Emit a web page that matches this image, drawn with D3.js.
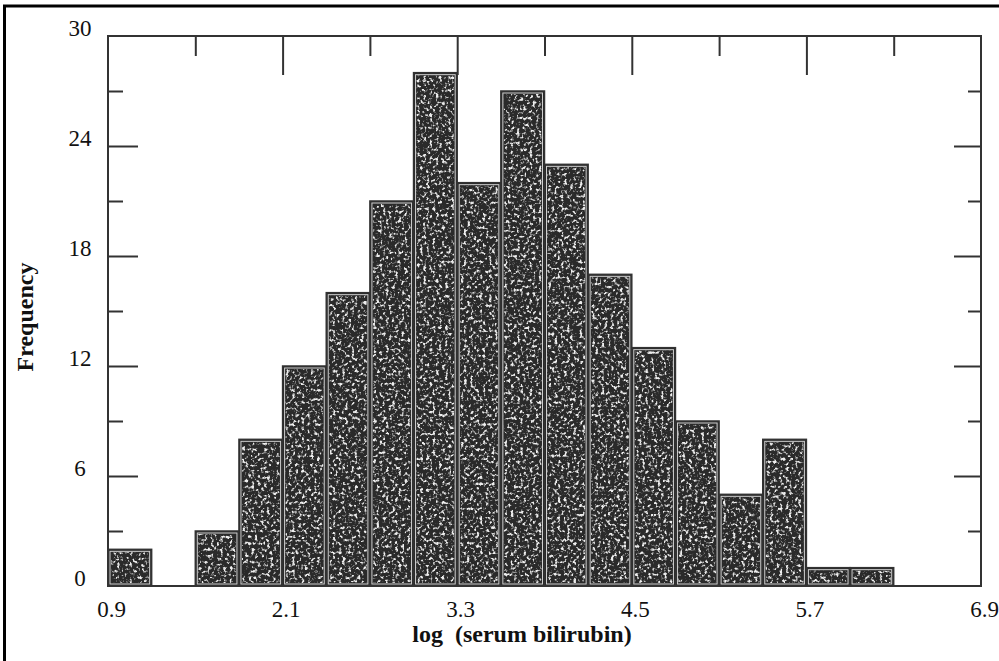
<!DOCTYPE html>
<html>
<head>
<meta charset="utf-8">
<script src="https://cdn.jsdelivr.net/npm/d3@7"></script>
<style>
  body { margin: 0; background: #fff; overflow: hidden; }
  svg { display: block; }
  .lbl { font-family: "Liberation Serif", "Times New Roman", serif; font-size: 23px; fill: #111; }
  .ttl { font-family: "Liberation Serif", "Times New Roman", serif; font-size: 24px; font-weight: bold; fill: #111; white-space: pre; }
</style>
</head>
<body>
<svg id="chart"></svg>
<script>
// histogram bins (lower edge) and counts
var binLow = [0.9, 1.2, 1.5, 1.8, 2.1, 2.4, 2.7, 3.0, 3.3, 3.6, 3.9, 4.2, 4.5, 4.8, 5.1, 5.4, 5.7, 6.0];
var counts = [2, 0, 3, 8, 12, 16, 21, 28, 22, 27, 23, 17, 13, 9, 5, 8, 1, 1];
var binWidth = 0.3;

var xLabels = [0.9, 2.1, 3.3, 4.5, 5.7, 6.9];
var xMinor = [1.5, 2.7, 3.9, 5.1, 6.3];
var yLabels = [0, 6, 12, 18, 24, 30];
var yMinor = [3, 9, 15, 21, 27];

var W = 999, H = 661;
var margin = {top: 36, left: 108};
var width = 981 - margin.left;
var height = 586 - margin.top;

var svg = d3.select("#chart").attr("width", W).attr("height", H);

// grainy fill like the scanned print
var defs = svg.append("defs");
var f = defs.append("filter").attr("id", "grain")
    .attr("x", 0).attr("y", 0).attr("width", 1).attr("height", 1);
f.append("feTurbulence").attr("type", "fractalNoise").attr("baseFrequency", 0.32)
    .attr("numOctaves", 2).attr("seed", 4).attr("result", "noise");
f.append("feColorMatrix").attr("in", "noise").attr("type", "matrix")
    .attr("values", "0 0 0 0 0.85  0 0 0 0 0.85  0 0 0 0 0.85  5 0 0 0 -2.6")
    .attr("result", "spots");
f.append("feComposite").attr("in", "spots").attr("in2", "SourceGraphic").attr("operator", "in");

// scanned page border
svg.append("rect").attr("x", 4.5).attr("y", 6).attr("width", 1100).attr("height", 800)
    .attr("fill", "none").attr("stroke", "#000").attr("stroke-width", 3);

var g = svg.append("g").attr("transform", "translate(" + margin.left + "," + margin.top + ")");

var xs = d3.scaleLinear().domain([0.9, 6.9]).range([0, width]);
var ys = d3.scaleLinear().domain([0, 30]).range([height, 0]);

var bins = binLow.map(function(lo, i) { return {lo: lo, hi: lo + binWidth, n: counts[i]}; })
    .filter(function(d) { return d.n > 0; });

var bar = g.selectAll(".bar").data(bins).enter().append("g").attr("class", "bar");
bar.append("rect")
    .attr("x", function(d) { return xs(d.lo); })
    .attr("y", function(d) { return ys(d.n); })
    .attr("width", function(d) { return xs(d.hi) - xs(d.lo); })
    .attr("height", function(d) { return ys(0) - ys(d.n); })
    .attr("fill", "#2a2a2a").attr("stroke", "#333").attr("stroke-width", 1.5);
bar.append("rect")
    .attr("x", function(d) { return xs(d.lo) + 3; })
    .attr("y", function(d) { return ys(d.n) + 3; })
    .attr("width", function(d) { return xs(d.hi) - xs(d.lo) - 6; })
    .attr("height", function(d) { return ys(0) - ys(d.n) - 6; })
    .attr("fill", "#000").attr("filter", "url(#grain)");
bar.append("rect")
    .attr("x", function(d) { return xs(d.lo) + 2; })
    .attr("y", function(d) { return ys(d.n) + 2; })
    .attr("width", function(d) { return xs(d.hi) - xs(d.lo) - 4; })
    .attr("height", function(d) { return ys(0) - ys(d.n) - 4; })
    .attr("fill", "none").attr("stroke", "#d0d0d0").attr("stroke-width", 1);

// frame
g.append("rect").attr("x", 0).attr("y", 0).attr("width", width).attr("height", height)
    .attr("fill", "none").attr("stroke", "#333").attr("stroke-width", 2);

function tickAxis(axis, vals, size, tx, ty) {
  var a = g.append("g").attr("transform", "translate(" + tx + "," + ty + ")")
      .call(axis.tickValues(vals).tickSize(size).tickFormat(""));
  a.select(".domain").remove();
  a.selectAll("line").attr("stroke", "#333").attr("stroke-width", 2);
}
tickAxis(d3.axisTop(xs), xLabels.slice(1, 5), -39, 0, 0);
tickAxis(d3.axisTop(xs), xMinor, -20, 0, 0);
tickAxis(d3.axisLeft(ys), yLabels.slice(1, 5), -30, 0, 0);
tickAxis(d3.axisLeft(ys), yMinor, -15, 0, 0);
tickAxis(d3.axisRight(ys), yLabels.slice(1, 5), -27, width, 0);
tickAxis(d3.axisRight(ys), yMinor, -13, width, 0);

// tick labels
var xa = g.append("g").attr("transform", "translate(0," + height + ")")
    .call(d3.axisBottom(xs).tickValues(xLabels).tickSize(0).tickFormat(d3.format(".1f")));
xa.select(".domain").remove();
xa.attr("font-size", null).attr("font-family", null);
xa.selectAll("text").attr("class", "lbl").attr("y", 31).attr("dy", 0).attr("x", 3);

var ya = g.append("g")
    .call(d3.axisLeft(ys).tickValues(yLabels).tickSize(0));
ya.select(".domain").remove();
ya.attr("font-size", null).attr("font-family", null);
ya.selectAll("text").attr("class", "lbl")
    .attr("x", -28).attr("dy", -1).attr("text-anchor", "middle");

// axis titles
svg.append("text").attr("class", "ttl").attr("x", 522).attr("y", 642)
    .attr("text-anchor", "middle").text("log  (serum bilirubin)");
svg.append("text").attr("class", "ttl")
    .attr("transform", "translate(33,317) rotate(-90)")
    .attr("text-anchor", "middle").text("Frequency");
</script>
</body>
</html>
